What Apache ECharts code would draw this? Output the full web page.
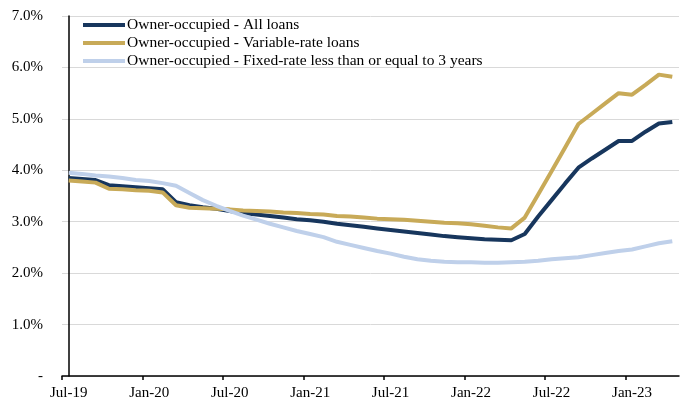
<!DOCTYPE html>
<html>
<head>
<meta charset="utf-8">
<script src="https://cdn.jsdelivr.net/npm/echarts@6/dist/echarts.min.js"></script>
<style>
  html, body { margin: 0; padding: 0; background: #fff; }
  #main { width: 680px; height: 406px; }
</style>
</head>
<body>
<div id="main"></div>
<script>
// months Jul-19 .. Apr-23
const months = [
  'Jul-19','Aug-19','Sep-19','Oct-19','Nov-19','Dec-19',
  'Jan-20','Feb-20','Mar-20','Apr-20','May-20','Jun-20',
  'Jul-20','Aug-20','Sep-20','Oct-20','Nov-20','Dec-20',
  'Jan-21','Feb-21','Mar-21','Apr-21','May-21','Jun-21',
  'Jul-21','Aug-21','Sep-21','Oct-21','Nov-21','Dec-21',
  'Jan-22','Feb-22','Mar-22','Apr-22','May-22','Jun-22',
  'Jul-22','Aug-22','Sep-22','Oct-22','Nov-22','Dec-22',
  'Jan-23','Feb-23','Mar-23','Apr-23'
];

const allLoans = [
  3.85, 3.83, 3.81, 3.71, 3.69, 3.67,
  3.65, 3.63, 3.38, 3.32, 3.28, 3.25,
  3.21, 3.17, 3.14, 3.11, 3.08, 3.05,
  3.03, 3.00, 2.96, 2.93, 2.90, 2.87,
  2.84, 2.81, 2.78, 2.75, 2.72, 2.70,
  2.68, 2.66, 2.65, 2.64, 2.76, 3.10,
  3.42, 3.74, 4.05, 4.23, 4.40, 4.57,
  4.57, 4.75, 4.91, 4.94
];

const variableRate = [
  3.80, 3.78, 3.76, 3.64, 3.63, 3.61,
  3.60, 3.57, 3.32, 3.27, 3.26, 3.25,
  3.24, 3.22, 3.21, 3.20, 3.18, 3.17,
  3.15, 3.14, 3.11, 3.10, 3.08, 3.06,
  3.05, 3.04, 3.02, 3.00, 2.98, 2.97,
  2.95, 2.92, 2.89, 2.87, 3.08, 3.53,
  3.98, 4.44, 4.90, 5.10, 5.30, 5.50,
  5.47, 5.66, 5.86, 5.82
];

const fixedRate = [
  3.95, 3.93, 3.90, 3.88, 3.85, 3.81,
  3.79, 3.75, 3.70, 3.56, 3.42, 3.31,
  3.21, 3.12, 3.04, 2.96, 2.89, 2.82,
  2.76, 2.70, 2.61, 2.55, 2.49, 2.43,
  2.38, 2.32, 2.27, 2.24, 2.22, 2.21,
  2.21, 2.20, 2.20, 2.21, 2.22, 2.24,
  2.27, 2.29, 2.31, 2.35, 2.39, 2.43,
  2.46, 2.52, 2.58, 2.62
];

const seriesNames = [
  'Owner-occupied - All loans',
  'Owner-occupied - Variable-rate loans',
  'Owner-occupied - Fixed-rate less than or equal to 3 years'
];
const colors = ['#17365d', '#c8aa58', '#bfd0ea'];

// labels on Jan / Jul months, ticks on the boundary just before them
const labelValues = [];
const tickValues = [];
months.forEach(function (m, i) {
  if (m.indexOf('Jan') === 0 || m.indexOf('Jul') === 0) {
    labelValues.push(i);
    tickValues.push(i - 0.5);
  }
});

function pairs(arr) {
  return arr.map(function (v, i) { return [i, v]; });
}

const font = 'Liberation Serif';

var myChart = echarts.init(document.getElementById('main'));
var option = {
  animation: false,
  color: colors,
  grid: { left: 62, right: 1, top: 16, bottom: 30 },
  legend: {
    orient: 'vertical',
    left: 83,
    top: 17,
    padding: 0,
    itemWidth: 42,
    itemHeight: 4,
    itemGap: 2,
    icon: 'rect',
    textStyle: { fontFamily: font, fontSize: 15.5, color: '#000', lineHeight: 15.5, padding: [0, 0, 0, -3] },
    data: seriesNames
  },
  xAxis: {
    type: 'value',
    min: -0.5,
    max: months.length - 0.5,
    axisLine: { show: true, lineStyle: { color: '#000', width: 1.5 } },
    axisTick: { show: true, length: 4, customValues: tickValues, lineStyle: { color: '#000', width: 1.5 } },
    axisLabel: {
      customValues: labelValues,
      margin: 10,
      fontFamily: font,
      fontSize: 15,
      color: '#000',
      formatter: function (v) { return months[Math.round(v)] || ''; }
    },
    splitLine: { show: false }
  },
  yAxis: {
    type: 'value',
    min: 0,
    max: 7,
    interval: 1,
    axisLine: { show: true, lineStyle: { color: '#000', width: 1.5 } },
    axisTick: { show: false },
    axisLabel: {
      margin: 19,
      fontFamily: font,
      fontSize: 15,
      color: '#000',
      formatter: function (v) { return v === 0 ? '-' : v.toFixed(1) + '%'; }
    },
    splitLine: { show: true, lineStyle: { color: '#d9d9d9', width: 1 } }
  },
  series: [
    { name: seriesNames[0], type: 'line', data: pairs(allLoans), showSymbol: false, symbol: 'none',
      lineStyle: { width: 4, color: colors[0] } },
    { name: seriesNames[1], type: 'line', data: pairs(variableRate), showSymbol: false, symbol: 'none',
      lineStyle: { width: 4, color: colors[1] } },
    { name: seriesNames[2], type: 'line', data: pairs(fixedRate), showSymbol: false, symbol: 'none',
      lineStyle: { width: 4, color: colors[2] } }
  ]
};
myChart.setOption(option);
</script>
</body>
</html>
